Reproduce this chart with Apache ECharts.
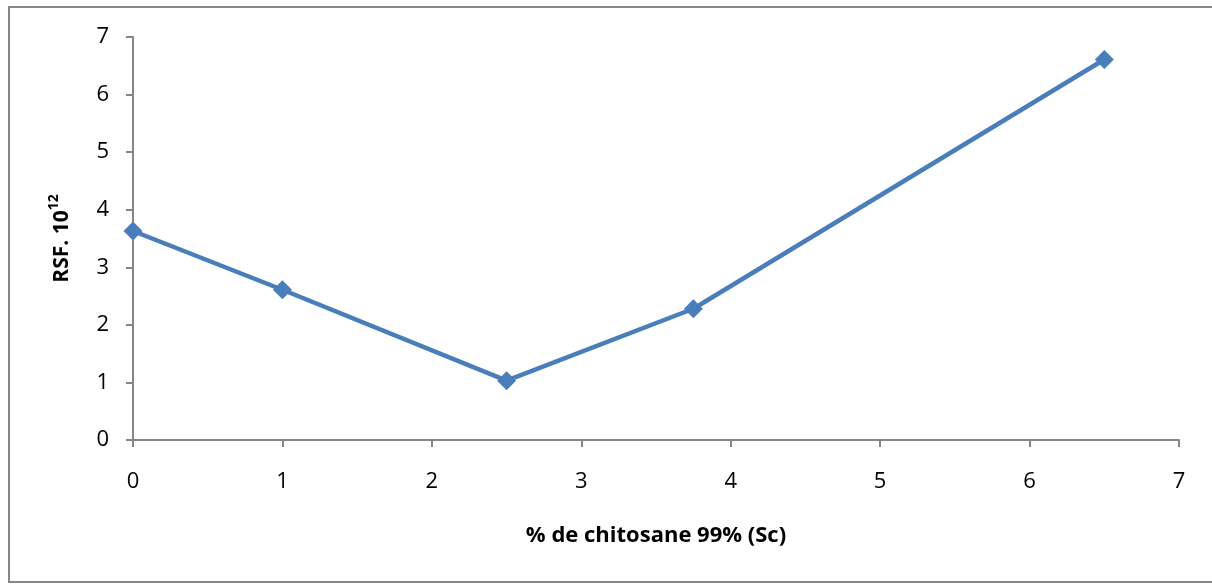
<!DOCTYPE html>
<html><head><meta charset="utf-8">
<script src="https://cdn.jsdelivr.net/npm/echarts@6/dist/echarts.min.js"></script>
<style>html,body{margin:0;padding:0;background:#fff}#c{width:1212px;height:585px}</style>
</head><body><div id="c"></div>
<script>
const xValues = [0, 1, 2.5, 3.75, 6.5];
const rsfValues = [3.63, 2.61, 1.03, 2.28, 6.61];
const xTitle = '% de chitosane 99% (Sc)';
const yTitleBase = 'RSF. 10';
const yTitleSup = '12';

const chart = echarts.init(document.getElementById('c'), null, {renderer: 'canvas'});
const axisColor = '#868686';
const font = '"Open Sans", "Liberation Sans", sans-serif';
chart.setOption({
  animation: false,
  backgroundColor: '#fff',
  graphic: [{type: 'rect', shape: {x: 9, y: 7, width: 1215, height: 575}, style: {fill: 'none', stroke: axisColor, lineWidth: 2}, silent: true}],
  grid: {left: 133, right: 33, top: 37, bottom: 145, containLabel: false},
  xAxis: {
    type: 'value', min: 0, max: 7, interval: 1,
    axisLine: {show: true, onZero: false, lineStyle: {color: axisColor, width: 2}},
    axisTick: {show: true, length: 7, lineStyle: {color: axisColor, width: 2}},
    splitLine: {show: false},
    axisLabel: {color: '#000', fontSize: 22, fontFamily: font, margin: 31},
    name: xTitle, nameLocation: 'middle', nameGap: 85,
    nameTextStyle: {color: '#000', fontSize: 22, fontWeight: 'bold', fontFamily: font}
  },
  yAxis: {
    type: 'value', min: 0, max: 7, interval: 1,
    axisLine: {show: true, onZero: false, lineStyle: {color: axisColor, width: 2}},
    axisTick: {show: true, length: 7, lineStyle: {color: axisColor, width: 2}},
    splitLine: {show: false},
    axisLabel: {color: '#000', fontSize: 22, fontFamily: font, margin: 24},
    name: '{b|' + yTitleBase + '}{s|' + yTitleSup + '}', nameLocation: 'middle', nameGap: 60, nameRotate: 90,
    nameTextStyle: {
      rich: {
        b: {color: '#000', fontSize: 21, fontWeight: 'bold', fontFamily: font, verticalAlign: 'bottom', lineHeight: 26},
        s: {color: '#000', fontSize: 14, fontWeight: 'bold', fontFamily: font, verticalAlign: 'top', lineHeight: 26, padding: [0, 0, 9, 0]}
      }
    }
  },
  series: [{
    type: 'line',
    data: xValues.map((x, i) => [x, rsfValues[i]]),
    symbol: 'diamond', symbolSize: 19,
    lineStyle: {color: '#4a7ebb', width: 4.5},
    itemStyle: {color: '#4a7ebb'}
  }]
});
</script></body></html>
